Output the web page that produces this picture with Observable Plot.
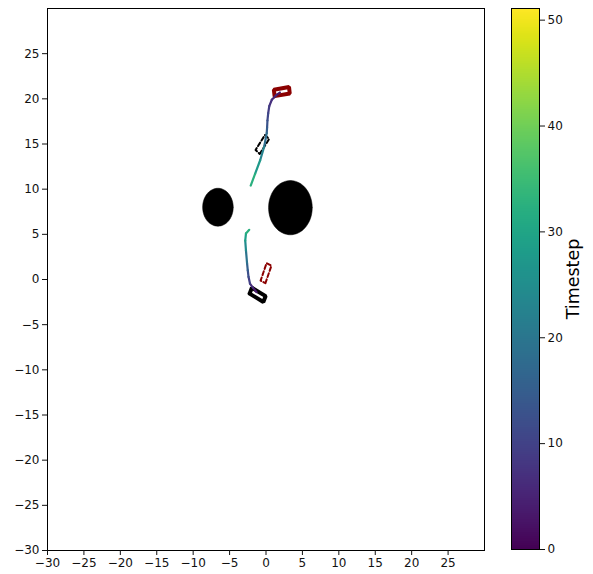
<!DOCTYPE html>
<html><head><meta charset="utf-8">
<script src="https://cdn.jsdelivr.net/npm/d3@7"></script>
<script src="https://cdn.jsdelivr.net/npm/@observablehq/plot@0.6"></script>
<style>
body{margin:0;background:#fff}
#wrap{display:flex;width:593px;height:574px}
</style>
</head><body><div id="wrap"></div>
<script>
// Axis ticks
const xTicks = [-30,-25,-20,-15,-10,-5,0,5,10,15,20,25];
const yTicks = [-30,-25,-20,-15,-10,-5,0,5,10,15,20,25];
const cbTicks = [0,10,20,30,40,50];
const cbMax = 51.1;
const cbLabel = "Timestep";

// Obstacles (circles)
const obsCx = [-6.6, 3.35];
const obsCy = [8.0, 7.95];
const obsR  = [2.1, 3.0];

// Vehicles (rectangles)
const vehCx    = [2.17, -0.5, -1.15, 0.0];
const vehCy    = [20.8, 14.95, -1.7, 0.7];
const vehAng   = [8, 52, -26, 67];
const vehColor = ["#8b0000", "black", "black", "#8b0000"];
const vehDash  = [false, true, false, true];
const vehL = 2.1, vehW = 0.72;

// Trajectory 1 (upper)
const tr1x = [1.9, 1.4, 0.8, 0.45, 0.3, 0.2, 0.15, 0.1, -0.25, -0.8, -1.5, -2.1];
const tr1y = [20.7, 20.4, 19.9, 19.2, 18.4, 17.6, 16.8, 16.2, 14.7, 13.2, 11.7, 10.4];
const tr1t = [2, 4, 6, 8, 10, 12, 14, 16, 20, 25, 30, 35];
// Trajectory 2 (lower)
const tr2x = [-1.3, -1.8, -2.2, -2.4, -2.5, -2.6, -2.75, -2.85, -2.75, -2.3];
const tr2y = [-1.4, -0.9, -0.45, 0.3, 1.0, 1.8, 3.2, 4.3, 5.1, 5.5];
const tr2t = [2, 5, 8, 11, 14, 17, 22, 27, 31, 34];

// Build geometry tables
const obsPts = [];
obsCx.forEach((cx, i) => {
  for (let k = 0; k <= 90; k++) {
    const a = 2 * Math.PI * k / 90;
    obsPts.push({id: i, x: cx + obsR[i] * Math.cos(a), y: obsCy[i] + obsR[i] * Math.sin(a)});
  }
});
const vehPts = [];
vehCx.forEach((cx, i) => {
  const a = vehAng[i] * Math.PI / 180, c = Math.cos(a), s = Math.sin(a);
  const cs = [[-vehL/2,-vehW/2],[vehL/2,-vehW/2],[vehL/2,vehW/2],[-vehL/2,vehW/2],[-vehL/2,-vehW/2]];
  cs.forEach(([u, v]) => vehPts.push({id: i, x: cx + u*c - v*s, y: vehCy[i] + u*s + v*c, color: vehColor[i], dash: vehDash[i]}));
});
function segs(xs, ys, ts) {
  const out = [];
  for (let i = 0; i < xs.length - 1; i++) out.push({x1: xs[i], y1: ys[i], x2: xs[i+1], y2: ys[i+1], t: (ts[i] + ts[i+1]) / 2});
  return out;
}
const trajSegs = [...segs(tr1x, tr1y, tr1t), ...segs(tr2x, tr2y, tr2t)];

const font = {fontFamily: "DejaVu Sans, sans-serif", fontSize: "12px", background: "white", color: "#111", overflow: "visible"};
const colorOpts = {type: "linear", scheme: "viridis", domain: [0, cbMax]};

const main = Plot.plot({
  width: 490, height: 574,
  marginLeft: 47, marginRight: 6, marginTop: 8, marginBottom: 24,
  style: font,
  x: {domain: [-30, 30]},
  y: {domain: [-30, 30]},
  color: colorOpts,
  marks: [
    Plot.line(obsPts, {x: "x", y: "y", z: "id", fill: "black", stroke: "black", strokeWidth: 0.5}),
    Plot.line(vehPts.filter(d => !d.dash), {x: "x", y: "y", z: "id", stroke: d => d.color, strokeWidth: 4, strokeLinejoin: "miter"}),
    Plot.line(vehPts.filter(d => d.dash), {x: "x", y: "y", z: "id", stroke: d => d.color, strokeWidth: 2, strokeDasharray: "4,2.5"}),
    Plot.link(trajSegs, {x1: "x1", y1: "y1", x2: "x2", y2: "y2", stroke: "t", strokeWidth: 2.2, strokeLinecap: "round"}),
    Plot.frame({stroke: "black", strokeWidth: 1}),
    Plot.axisX({ticks: xTicks, tickSize: 5, tickPadding: 3, label: null, tickFormat: d3.format("d")}),
    Plot.axisY({ticks: yTicks, tickSize: 5, tickPadding: 3, label: null, tickFormat: d3.format("d")})
  ]
});

const cb = Plot.plot({
  width: 103, height: 574,
  marginLeft: 21, marginRight: 54, marginTop: 8, marginBottom: 25,
  style: font,
  x: {domain: [0, 1], axis: null},
  y: {domain: [0, cbMax]},
  color: colorOpts,
  marks: [
    Plot.raster({x1: 0, x2: 1, y1: 0, y2: cbMax, width: 1, height: 540, fill: (x, y) => y, imageRendering: "auto"}),
    Plot.frame({stroke: "black", strokeWidth: 1}),
    Plot.axisY({anchor: "right", ticks: cbTicks, tickSize: 5, tickPadding: 3, label: null}),
    Plot.text([cbLabel], {frameAnchor: "right", text: d => d, rotate: -90, dx: 34, textAnchor: "middle", lineAnchor: "middle", fontSize: 17.5, fill: "black"})
  ]
});

document.getElementById("wrap").append(main, cb);
</script></body></html>
